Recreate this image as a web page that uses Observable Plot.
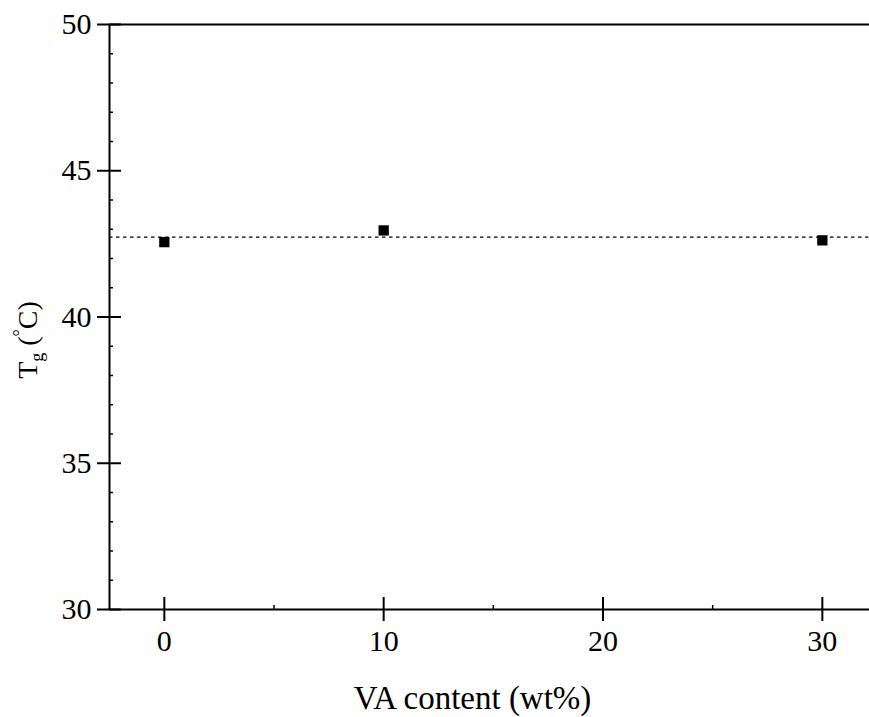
<!DOCTYPE html>
<html><head><meta charset="utf-8">
<script src="https://cdn.jsdelivr.net/npm/d3@7"></script>
<script src="https://cdn.jsdelivr.net/npm/@observablehq/plot@0.6"></script>
<style>body{margin:0;background:#fff} svg{display:block}</style>
</head><body><div id="chart"></div>
<script>
const vaContent = [0, 10, 30];
const tgValues = [42.56, 42.96, 42.62];
const meanTg = 42.73;
const xMajorTicks = [0, 10, 20, 30];
const xMinorTicks = [5, 15, 25];
const yMajorTicks = [30, 35, 40, 45, 50];
const yMinorTicks = [31, 32, 33, 34, 36, 37, 38, 39, 41, 42, 43, 44, 46, 47, 48, 49];
const xDomain = [-2.5, 32.15];
const yDomain = [30, 50];
const xLabel = "VA content (wt%)";

const font = "'Liberation Serif', 'Times New Roman', serif";
const points = vaContent.map((x, i) => ({x, y: tgValues[i]}));

const chart = Plot.plot({
  width: 869, height: 717,
  marginLeft: 109, marginRight: 0, marginTop: 24, marginBottom: 108,
  style: {fontFamily: font, fontSize: "30px", background: "#fff", color: "#000"},
  x: {domain: xDomain},
  y: {domain: yDomain},
  marks: [
    Plot.ruleY([meanTg], {stroke: "#000", strokeWidth: 1.3, strokeDasharray: "3.5,3.5"}),
    Plot.ruleY([yDomain[0]], {stroke: "#000", strokeWidth: 2}),
    Plot.ruleY([yDomain[1]], {stroke: "#000", strokeWidth: 2}),
    Plot.ruleX([xDomain[0]], {stroke: "#000", strokeWidth: 2}),
    Plot.axisY({ticks: yMajorTicks, tickSize: 12, tickPadding: 6, fontSize: 30, label: null, strokeWidth: 2}),
    Plot.axisY({ticks: yMajorTicks, tickSize: 12, dx: 12, text: null, label: null, strokeWidth: 2}),
    Plot.axisY({ticks: yMinorTicks, tickSize: 4, dx: 4, text: null, label: null, strokeWidth: 1.5}),
    Plot.axisX({ticks: xMajorTicks, tickSize: 12, tickPadding: 8, fontSize: 30, label: null, strokeWidth: 2}),
    Plot.axisX({ticks: xMajorTicks, tickSize: 12, dy: -12, text: null, label: null, strokeWidth: 2}),
    Plot.axisX({ticks: xMinorTicks, tickSize: 4, dy: -4, text: null, label: null, strokeWidth: 1.5}),
    Plot.dot(points, {x: "x", y: "y", symbol: "square", r: 5.8, fill: "#000"}),
    Plot.text([xLabel], {frameAnchor: "bottom", dx: -17, dy: 89, fontSize: 33, lineAnchor: "middle", fill: "#000"})
  ]
});

const svg = d3.select(chart);
const yl = svg.append("text")
  .attr("transform", "translate(37,340) rotate(-90)")
  .attr("text-anchor", "middle")
  .attr("font-family", font)
  .attr("font-size", 28)
  .attr("fill", "#000");
yl.append("tspan").text("T");
yl.append("tspan").attr("font-size", 18).attr("dy", 6).text("g");
yl.append("tspan").attr("dy", -6).text(" (");
yl.append("tspan").attr("font-size", 18).attr("dy", -11).text("°");
yl.append("tspan").attr("dy", 11).text("C)");

document.getElementById("chart").appendChild(chart);
</script>
</body></html>
